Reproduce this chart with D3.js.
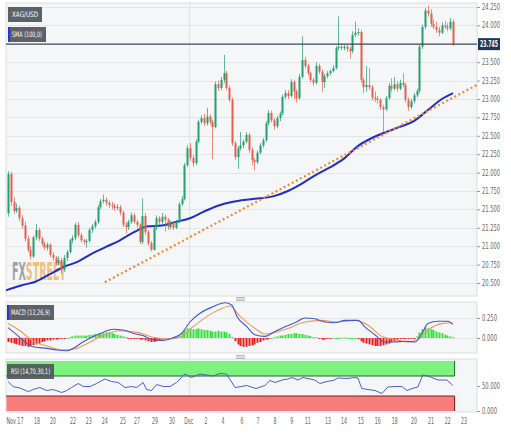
<!DOCTYPE html>
<html>
<head>
<meta charset="utf-8">
<script src="https://cdn.jsdelivr.net/npm/d3@7/dist/d3.min.js"></script>
<style>
  body { margin: 0; background: #fff; }
  svg text { font-family: "Liberation Sans Narrow", "DejaVu Sans Condensed", "DejaVu Sans", sans-serif; font-stretch: condensed; }
</style>
</head>
<body>
<svg id="chart"></svg>
<script>
var viewWidth = 511;
var viewHeight = 437;

// 4h candles, [open, high, low, close]
var candles = [
  [21.45,22.02,21.40,21.98],[21.98,22.01,21.55,21.60],[21.60,21.66,21.44,21.48],[21.48,21.58,21.45,21.52],
  [21.52,21.55,21.34,21.38],[21.38,21.42,21.24,21.28],[21.28,21.33,21.06,21.10],[21.10,21.14,20.92,20.95],
  [20.95,21.00,20.82,20.86],[20.86,21.14,20.84,21.12],[21.12,21.30,21.08,21.22],[21.22,21.25,21.07,21.10],
  [21.10,21.13,21.00,21.03],[21.03,21.06,20.95,20.98],[20.98,21.05,20.94,21.02],[21.02,21.04,20.85,20.88],
  [20.88,20.92,20.80,20.84],[20.84,20.87,20.74,20.77],[20.77,20.86,20.74,20.81],[20.81,20.84,20.62,20.68],
  [20.68,20.88,20.65,20.84],[20.84,20.95,20.80,20.92],[20.92,21.10,20.90,21.08],[21.08,21.15,21.04,21.11],
  [21.11,21.32,21.08,21.29],[21.29,21.33,21.12,21.15],[21.15,21.18,21.05,21.08],[21.08,21.10,21.02,21.06],
  [21.06,21.10,20.98,21.07],[21.07,21.25,21.05,21.22],[21.22,21.30,21.18,21.27],[21.27,21.36,21.24,21.33],
  [21.33,21.56,21.30,21.53],[21.53,21.64,21.50,21.61],[21.61,21.70,21.58,21.63],[21.63,21.66,21.55,21.59],
  [21.59,21.62,21.52,21.56],[21.56,21.60,21.50,21.55],[21.55,21.58,21.48,21.52],[21.52,21.57,21.49,21.53],
  [21.53,21.56,21.42,21.46],[21.46,21.48,21.26,21.29],[21.29,21.33,21.17,21.26],[21.26,21.36,21.22,21.33],
  [21.33,21.46,21.30,21.42],[21.42,21.45,21.30,21.33],[21.33,21.36,21.25,21.29],[21.29,21.31,21.03,21.06],
  [21.06,21.65,21.03,21.41],[21.41,21.45,21.15,21.19],[21.19,21.22,21.01,21.04],[21.04,21.07,20.93,20.95],
  [20.95,21.28,20.94,21.25],[21.25,21.42,21.22,21.38],[21.38,21.41,21.29,21.33],[21.33,21.45,21.30,21.40],
  [21.40,21.43,21.20,21.36],[21.36,21.38,21.22,21.26],[21.26,21.35,21.23,21.32],[21.32,21.34,21.22,21.25],
  [21.25,21.36,21.23,21.33],[21.33,21.60,21.31,21.57],[21.57,21.68,21.55,21.64],[21.64,22.13,21.62,22.10],
  [22.10,22.37,22.08,22.33],[22.33,22.40,22.16,22.20],[22.20,22.24,22.08,22.13],[22.13,22.45,22.10,22.42],
  [22.42,22.72,22.40,22.69],[22.69,22.78,22.66,22.74],[22.74,22.80,22.63,22.67],[22.67,22.88,22.64,22.76],
  [22.76,22.79,22.65,22.69],[22.69,22.72,22.18,22.62],[22.62,23.24,22.60,23.20],[23.20,23.25,23.11,23.15],
  [23.15,23.30,23.12,23.26],[23.26,23.60,23.22,23.35],[23.35,23.38,23.12,23.15],[23.15,23.18,22.96,22.99],
  [22.99,23.02,22.36,22.40],[22.40,22.43,22.17,22.21],[22.21,22.36,22.05,22.33],[22.33,22.55,22.30,22.37],
  [22.37,22.45,22.33,22.42],[22.42,22.55,22.40,22.51],[22.51,22.54,22.27,22.31],[22.31,22.34,22.10,22.17],
  [22.17,22.20,22.03,22.14],[22.14,22.30,22.12,22.27],[22.27,22.40,22.25,22.37],[22.37,22.47,22.34,22.44],
  [22.44,22.70,22.42,22.67],[22.67,22.85,22.64,22.81],[22.81,22.84,22.68,22.71],[22.71,22.74,22.58,22.63],
  [22.63,22.77,22.60,22.74],[22.74,22.83,22.70,22.80],[22.80,23.06,22.78,23.03],[23.03,23.12,23.00,23.08],
  [23.08,23.12,23.00,23.04],[23.04,23.27,23.02,23.23],[23.23,23.26,23.00,23.10],[23.10,23.13,22.95,23.01],
  [23.01,23.34,22.99,23.30],[23.30,23.85,23.28,23.53],[23.53,23.57,23.42,23.45],[23.45,23.48,23.32,23.35],
  [23.35,23.37,23.23,23.26],[23.26,23.29,23.18,23.22],[23.22,23.50,23.20,23.45],[23.45,23.48,23.34,23.37],
  [23.37,23.40,23.10,23.23],[23.23,23.34,23.15,23.31],[23.31,23.38,23.28,23.35],[23.35,23.40,23.32,23.38],
  [23.38,23.46,23.36,23.42],[23.42,23.72,23.40,23.69],[23.69,24.12,23.66,23.71],[23.71,23.75,23.66,23.69],
  [23.69,23.74,23.66,23.71],[23.71,23.74,23.64,23.68],[23.68,23.71,23.55,23.65],[23.65,23.92,23.62,23.87],
  [23.87,24.05,23.84,23.90],[23.90,23.96,23.86,23.91],[23.91,23.94,23.22,23.26],[23.26,23.29,23.08,23.16],
  [23.16,23.45,23.10,23.19],[23.19,23.42,23.12,23.16],[23.16,23.19,22.98,23.02],[23.02,23.10,22.96,23.00],
  [23.00,23.04,22.94,22.99],[22.99,23.01,22.85,22.89],[22.89,22.92,22.55,22.86],[22.86,23.04,22.84,23.01],
  [23.01,23.22,22.99,23.18],[23.18,23.28,23.10,23.14],[23.14,23.30,23.12,23.20],[23.20,23.24,23.10,23.14],
  [23.14,23.26,23.12,23.22],[23.22,23.35,23.16,23.19],[23.19,23.22,22.95,22.99],[22.99,23.02,22.84,22.89],
  [22.89,23.00,22.86,22.97],[22.97,23.08,22.94,23.05],[23.05,23.14,23.02,23.11],[23.11,23.74,23.08,23.71],
  [23.71,24.01,23.68,23.98],[23.98,24.24,23.95,24.20],[24.20,24.27,24.12,24.16],[24.16,24.22,23.98,24.02],
  [24.02,24.08,23.95,23.98],[23.98,24.05,23.90,23.94],[23.94,23.98,23.85,23.90],[23.90,24.04,23.88,24.00],
  [24.00,24.06,23.95,23.98],[23.98,24.03,23.92,23.96],[23.96,24.10,23.93,24.05],[24.05,24.08,23.72,23.745]
];

// SMA(100) read at candle index
var smaPts = [[-0.7,20.40],[0,20.41],[5,20.47],[10,20.52],[15,20.62],[20,20.72],[25,20.79],[30,20.90],[35,20.99],
  [40,21.08],[45,21.19],[50,21.27],[55,21.28],[60,21.33],[65,21.38],[70,21.47],[75,21.55],[80,21.60],
  [85,21.63],[90,21.65],[95,21.68],[100,21.75],[105,21.85],[110,21.97],[115,22.07],[120,22.19],
  [125,22.36],[130,22.47],[135,22.55],[140,22.62],[145,22.70],[150,22.85],[155,23.00],[159,23.08]];

// dotted support line, two ends
var trendPts = [[34.6,20.51],[167.5,23.19]];
var lastPrice = 23.745;
// 23.750 sits under the last-price box, so it is not labelled
var priceTicks = [20.5,20.75,21,21.25,21.5,21.75,22,22.25,22.5,22.75,23,23.25,23.5,24,24.25];

var macdPts = [[0,0.13],[3.2,0.04],[6.8,-0.07],[8.9,-0.11],[13.9,-0.13],[17.5,-0.15],[21.1,-0.16],[23.2,-0.13],
  [26.8,-0.05],[30.4,0.02],[33.9,0.07],[37.5,0.11],[41.1,0.10],[44.6,0.06],[48.2,0.03],[51.8,-0.02],
  [55.4,-0.03],[58.9,0.00],[62.1,0.06],[65,0.20],[68.6,0.31],[73.2,0.39],[77.5,0.44],[80,0.41],
  [81.8,0.27],[85.4,0.14],[88.2,0.04],[91.8,0.02],[95.4,0.08],[98.9,0.14],[102.5,0.19],[106.1,0.25],
  [109.6,0.24],[113.2,0.20],[116.8,0.19],[120.4,0.22],[125,0.22],[127.5,0.14],[131.1,0.04],[134.6,-0.05],
  [138.2,-0.05],[141.8,-0.04],[145.4,-0.05],[147.9,0.06],[150,0.18],[153.6,0.21],[157.1,0.21],[158.9,0.17]];
var signalPts = [[0,0.18],[4.3,0.09],[8.9,-0.04],[13.9,-0.10],[19.6,-0.15],[24.6,-0.13],[29.3,-0.05],
  [33.9,0.03],[40,0.09],[46.1,0.07],[51.8,0.01],[57.9,-0.01],[61.4,0.01],[66.1,0.14],[71.1,0.27],
  [75.7,0.36],[79.3,0.40],[82.9,0.27],[88.2,0.12],[91.8,0.05],[95.4,0.07],[100,0.12],[106.1,0.20],
  [112.1,0.22],[117.9,0.20],[123.9,0.22],[128.6,0.16],[133.6,0.02],[138.2,-0.02],[142.9,-0.05],
  [146.4,-0.02],[150,0.10],[155,0.18],[158.9,0.19]];
var histVals = [
  -0.05,-0.06,-0.07,-0.08,-0.09,-0.10,-0.10,-0.11,-0.10,-0.09,-0.08,-0.07,-0.05,-0.04,-0.03,-0.03,
  -0.02,-0.02,-0.01,-0.01,-0.01,0.00,0.01,0.02,0.03,0.03,0.03,0.03,0.03,0.04,0.04,0.05,
  0.05,0.06,0.06,0.07,0.07,0.06,0.05,0.04,0.03,0.02,0.01,-0.01,-0.01,-0.01,-0.01,-0.02,
  -0.02,-0.03,-0.04,-0.05,-0.05,-0.04,-0.03,-0.02,-0.01,-0.01,0.00,0.01,0.02,0.04,0.07,0.10,
  0.12,0.12,0.11,0.11,0.12,0.11,0.10,0.10,0.09,0.08,0.08,0.09,0.08,0.08,0.07,0.05,
  0.01,-0.04,-0.08,-0.10,-0.11,-0.11,-0.10,-0.09,-0.08,-0.06,-0.05,-0.03,-0.02,-0.01,0.00,0.01,
  0.02,0.03,0.03,0.04,0.05,0.05,0.06,0.06,0.05,0.05,0.04,0.03,0.02,0.01,0.01,-0.01,
  -0.02,-0.02,-0.01,-0.01,0.00,0.00,0.005,0.005,0.005,0.005,0.00,0.00,0.00,-0.01,-0.04,-0.06,
  -0.07,-0.08,-0.09,-0.10,-0.10,-0.10,-0.09,-0.08,-0.07,-0.05,-0.04,-0.02,-0.01,-0.01,-0.01,-0.01,
  -0.01,-0.01,0.02,0.07,0.11,0.13,0.12,0.11,0.10,0.08,0.07,0.06,0.04,0.03,0.02,0.01];
var macdTicks = [0, 0.25];

var rsiPts = [[0,58.7],[1.9,48.7],[4.3,46],[7.3,38.7],[9,43],[11.4,47],[13.8,41],[16.2,43],[19.2,37],[21,41],
  [22.7,47],[25.1,55],[26.9,49],[29.3,49],[31.7,55],[34.6,64],[37,59],[39.4,57],[41.8,47],[44.2,49],
  [46,47],[48.3,57],[49.5,43],[51.3,41],[53.1,53],[55.5,49],[57.9,49],[60.2,57],[63.2,74],[65.6,67],
  [68.6,74],[71,72],[73.3,70],[75.7,75],[78.1,74],[81.1,47],[83.5,49],[85.2,51],[88.6,45],[91.8,51],
  [93.6,61],[95.4,57],[97.9,62],[100,64],[101.4,67],[103.6,62],[105.4,67],[107.9,64],[109.6,62],
  [111.4,55],[113.9,59],[116.1,61],[117.9,66],[121.1,65],[123.9,67],[125,66],[126.4,45],[128.6,43],
  [131.1,41],[133.6,35],[135.7,48],[138.2,49],[140.7,49],[142.5,41],[144.3,45],[146.4,48],[148.2,72],
  [150,70],[151.4,67],[153.6,62],[156.8,62],[158.9,51]];
var rsiTicks = [0, 50];

var dateLabels = ["Nov 17","18","20","22","23","24","25","27","29","30","Dec","2","4","6","7","8","9",
  "11","13","14","15","16","18","20","21","22","23"];
var dateIdx = [2.5,10.4,16.1,23.2,28.9,34.6,41.1,46.1,52.5,58.6,64.6,70.7,76.8,83.6,89.3,95.4,101.4,
  107.1,114.3,120,126.1,132.1,138.2,145,151.1,157.1,162.9];

var svg = d3.select("#chart")
    .attr("width", viewWidth)
    .attr("height", viewHeight);

var plotLeft = 6, plotRight = 477;
var main = {top: 3, bottom: 296};
var macdP = {top: 302, bottom: 353};
var rsiP = {top: 359, bottom: 412};

var x = d3.scaleLinear().domain([-0.7, 167.9]).range([plotLeft, plotRight + 1]);
var y = d3.scaleLinear().domain([20.323, 24.304]).range([main.bottom, main.top]);
var yMacd = d3.scaleLinear().domain([-0.1875, 0.45]).range([macdP.bottom, macdP.top]);
var yRsi = d3.scaleLinear().domain([0, 100]).range([411, 361]);

var green = "#22a06f", red = "#e2604f";

// squeeze a text into a given width (narrow chart font)
function fit(sel, w) {
  sel.attr("textLength", w).attr("lengthAdjust", "spacingAndGlyphs");
}

// panel backgrounds
[main, macdP, rsiP].forEach(function(p) {
  svg.append("rect")
    .attr("x", plotLeft).attr("y", p.top)
    .attr("width", plotRight - plotLeft).attr("height", p.bottom - p.top)
    .attr("fill", "#f5f6f7")
    .attr("stroke", "#dcdcdc");
});

// grid lines
svg.append("g").selectAll("line").data(priceTicks).enter().append("line")
  .attr("x1", plotLeft).attr("x2", plotRight)
  .attr("y1", function(d) { return Math.round(y(d)) + 0.5; })
  .attr("y2", function(d) { return Math.round(y(d)) + 0.5; })
  .attr("stroke", "#e3e5e8");
svg.append("g").selectAll("line").data(macdTicks).enter().append("line")
  .attr("x1", plotLeft).attr("x2", plotRight)
  .attr("y1", function(d) { return Math.round(yMacd(d)) + 0.5; })
  .attr("y2", function(d) { return Math.round(yMacd(d)) + 0.5; })
  .attr("stroke", "#e3e5e8");

// month boundary
svg.append("line")
  .attr("x1", Math.round(x(64.6)) + 0.5).attr("x2", Math.round(x(64.6)) + 0.5)
  .attr("y1", main.top).attr("y2", rsiP.bottom)
  .attr("stroke", "#e2e2e2");

// right axes
function rightAxis(scale, ticks, fmt) {
  var g = svg.append("g")
    .attr("transform", "translate(" + plotRight + ",0)")
    .call(d3.axisRight(scale).tickValues(ticks).tickFormat(d3.format(fmt)).tickSize(3).tickPadding(2));
  g.select(".domain").remove();
  g.selectAll(".tick line").attr("stroke", "#999");
  g.selectAll("text").attr("fill", "#666").style("font-size", "8px")
    .each(function() {
      var t = d3.select(this);
      fit(t, t.text().length * 3);
    });
  return g;
}
rightAxis(y, priceTicks, ".3f");
rightAxis(yMacd, macdTicks, ".3f");
rightAxis(yRsi, rsiTicks, ".3f");

// watermark
var wm = svg.append("text").attr("x", 12).attr("y", 280)
  .style("font-size", "24px").style("font-weight", "bold");
fit(wm, 54);
wm.append("tspan").attr("fill", "#7d8593").attr("fill-opacity", 0.75).text("FX");
wm.append("tspan").attr("fill", "#f2a645").attr("fill-opacity", 0.7).text("STREET");

// SMA 100
var smaLine = d3.line()
  .x(function(d) { return x(d[0]); })
  .y(function(d) { return y(d[1]); })
  .curve(d3.curveMonotoneX);
svg.append("path").datum(smaPts)
  .attr("d", smaLine)
  .attr("fill", "none").attr("stroke", "#1f2fc4").attr("stroke-width", 2);

// dotted trend line
svg.append("path").datum(trendPts)
  .attr("d", smaLine.curve(d3.curveLinear))
  .attr("fill", "none").attr("stroke", "#ee8a2c").attr("stroke-width", 2.2)
  .attr("stroke-dasharray", "2,2.6");

// candles
var cg = svg.append("g");
cg.selectAll("line").data(candles).enter().append("line")
  .attr("x1", function(d, i) { return Math.round(x(i)) + 0.5; })
  .attr("x2", function(d, i) { return Math.round(x(i)) + 0.5; })
  .attr("y1", function(d) { return y(d[1]); })
  .attr("y2", function(d) { return y(d[2]); })
  .attr("stroke", function(d) { return d[3] >= d[0] ? green : red; })
  .attr("stroke-width", 1)
  .attr("opacity", 0.7);
cg.selectAll("rect").data(candles).enter().append("rect")
  .attr("x", function(d, i) { return Math.round(x(i)) - 0.5; })
  .attr("width", 2)
  .attr("y", function(d) { return y(Math.max(d[0], d[3])); })
  .attr("height", function(d) { return Math.max(1, Math.abs(y(d[0]) - y(d[3]))); })
  .attr("fill", function(d) { return d[3] >= d[0] ? green : red; });

// last price line and label
svg.append("line")
  .attr("x1", plotLeft).attr("x2", plotRight)
  .attr("y1", y(lastPrice)).attr("y2", y(lastPrice))
  .attr("stroke", "#3c4852").attr("stroke-width", 1.3);
svg.append("rect")
  .attr("x", plotRight + 1).attr("y", y(lastPrice) - 6)
  .attr("width", 22).attr("height", 12).attr("fill", "#1e3858");
var pl = svg.append("text")
  .attr("x", plotRight + 3).attr("y", y(lastPrice) + 0.5)
  .attr("dominant-baseline", "middle")
  .style("font-size", "8px").style("font-weight", "bold")
  .attr("fill", "#fff").text(d3.format(".3f")(lastPrice));
fit(pl, 18);

// MACD histogram
svg.append("g").selectAll("rect").data(histVals).enter().append("rect")
  .attr("x", function(d, i) { return Math.round(x(i)) - 0.5; })
  .attr("width", 2)
  .attr("y", function(d) { return d >= 0 ? yMacd(d) : yMacd(0); })
  .attr("height", function(d) { return Math.max(1, Math.abs(yMacd(d) - yMacd(0))); })
  .attr("fill", function(d) { return d >= 0 ? "#33e03a" : "#ee1c1c"; });

var macdLine = d3.line()
  .x(function(d) { return x(d[0]); })
  .y(function(d) { return yMacd(d[1]); })
  .curve(d3.curveMonotoneX);
svg.append("path").datum(signalPts)
  .attr("d", macdLine)
  .attr("fill", "none").attr("stroke", "#ec9a5c").attr("stroke-width", 1.1);
svg.append("path").datum(macdPts)
  .attr("d", macdLine)
  .attr("fill", "none").attr("stroke", "#4257d0").attr("stroke-width", 1.1);

// RSI bands
var lastX = x(candles.length - 1) + 1.5;
svg.append("rect")
  .attr("x", plotLeft + 0.5).attr("y", yRsi(100))
  .attr("width", lastX - plotLeft).attr("height", yRsi(70) - yRsi(100))
  .attr("fill", "#7df27d");
svg.append("line")
  .attr("x1", plotLeft).attr("x2", lastX)
  .attr("y1", yRsi(70)).attr("y2", yRsi(70))
  .attr("stroke", "#1f6b2a").attr("stroke-width", 1.2);
svg.append("line")
  .attr("x1", lastX).attr("x2", lastX)
  .attr("y1", yRsi(100)).attr("y2", yRsi(70))
  .attr("stroke", "#1f6b2a");
svg.append("rect")
  .attr("x", plotLeft + 0.5).attr("y", yRsi(30))
  .attr("width", lastX - plotLeft).attr("height", yRsi(0) - yRsi(30))
  .attr("fill", "#f77c7c");
svg.append("line")
  .attr("x1", plotLeft).attr("x2", lastX)
  .attr("y1", yRsi(30)).attr("y2", yRsi(30))
  .attr("stroke", "#7a2020").attr("stroke-width", 1.2);
svg.append("line")
  .attr("x1", lastX).attr("x2", lastX)
  .attr("y1", yRsi(30)).attr("y2", yRsi(0))
  .attr("stroke", "#7a2020");

svg.append("path").datum(rsiPts)
  .attr("d", d3.line()
    .x(function(d) { return x(d[0]); })
    .y(function(d) { return yRsi(d[1]); }))
  .attr("fill", "none").attr("stroke", "#4a5fd0").attr("stroke-width", 1);

// legend boxes
function labelBox(bx, by, w, txt, stripe) {
  svg.append("rect").attr("x", bx).attr("y", by).attr("width", w).attr("height", 15)
    .attr("fill", "#55595d").attr("opacity", 0.95);
  if (stripe) {
    svg.append("rect").attr("x", bx).attr("y", by).attr("width", 1.8).attr("height", 15)
      .attr("fill", stripe);
  }
  var t = svg.append("text").attr("x", bx + 4).attr("y", by + 8)
    .attr("dominant-baseline", "middle")
    .style("font-size", "7.5px").attr("fill", "#fff").text(txt);
  fit(t, w - 8);
}
labelBox(8, 7, 34, "XAG/USD", null);
labelBox(8, 27, 38, "SMA (100,0)", "#2233dd");
labelBox(7, 305, 47, "MACD (12,26,9)", "#2233dd");
labelBox(7, 364, 47, "RSI (14,70,30,1)", null);

// panel handles
[299, 357].forEach(function(hy) {
  var g = svg.append("g");
  [-1.5, 0, 1.5].forEach(function(o) {
    g.append("line").attr("x1", 236).attr("x2", 245)
      .attr("y1", hy + o).attr("y2", hy + o)
      .attr("stroke", "#a8a8a8").attr("stroke-width", 0.8);
  });
});

// date labels
svg.append("g").selectAll("text").data(dateLabels).enter().append("text")
  .attr("x", function(d, i) { return x(dateIdx[i]); })
  .attr("y", 421)
  .attr("text-anchor", "middle").attr("dominant-baseline", "middle")
  .style("font-size", "8px").attr("fill", "#666")
  .text(function(d) { return d; })
  .each(function(d) {
    fit(d3.select(this), d.length * 3 - (d.indexOf(" ") > 0 ? 1 : 0));
  });
</script>
</body>
</html>
